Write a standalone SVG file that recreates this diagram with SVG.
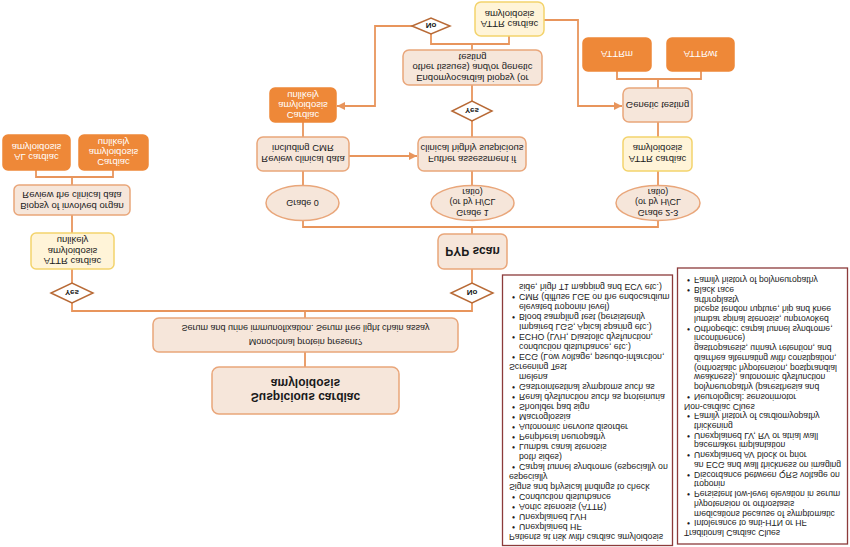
<svg xmlns="http://www.w3.org/2000/svg" width="850" height="547" viewBox="0 0 850 547">
<style>
.b{fill:#F6E6DA;stroke:#E9A67A;stroke-width:1.5}
.o{fill:#EE8838;stroke:#EE8838;stroke-width:1.5}
.y{fill:#FFF4D8;stroke:#F3D36C;stroke-width:1.5}
.d{fill:#fff;stroke:#B86A36;stroke-width:1.5}
.c{fill:none;stroke:#E8955C;stroke-width:1.8}
.pn{fill:#fff;stroke:#8C3B3B;stroke-width:1.3}
text{font-family:"Liberation Sans",Arial,sans-serif;fill:#1a1a1a}
.t{font-size:9.5px;text-anchor:middle}
.g{font-size:9px;text-anchor:middle}
.w{fill:#fff}
.bd{font-weight:bold}
.dt{font-size:8px;font-weight:bold;text-anchor:middle}
.p1{font-size:8.75px}
.p2{font-size:8.6px}
</style>
<defs>
<marker id="ah" markerUnits="userSpaceOnUse" markerWidth="8" markerHeight="8" refX="8" refY="4" orient="auto">
<path d="M0,0 L8,4 L0,8 z" fill="#E8955C"/>
</marker>
</defs>
<g transform="matrix(1 0 0 -1 0 547)">
<g id="connectors">
<path class="c" d="M305 180 V195"/>
<path class="c" d="M305 229 V236 M72 244 V236 H472 V244"/>
<path class="c" d="M72 264 V278"/>
<path class="c" d="M72 314 V332"/>
<path class="c" d="M72 362 V370 M36 377 V370 H113 V377"/>
<path class="c" d="M472 264 V278"/>
<path class="c" d="M472 313 V320 M303 326.5 V320 H658 V326.5"/>
<path class="c" d="M303 361.5 V376 M472 361.5 V376 M658 361.5 V376"/>
<path class="c" d="M349 391 H417" marker-end="url(#ah)"/>
<path class="c" d="M303 410 V425"/>
<path class="c" d="M472 410 V426"/>
<path class="c" d="M472 446 V462"/>
<path class="c" d="M472 497 V503 M431 513 V503 H509 V511"/>
<path class="c" d="M412 521 H375 V441 H337" marker-end="url(#ah)"/>
<path class="c" d="M544 527 H578 V441 H622" marker-end="url(#ah)"/>
<path class="c" d="M658 410 V425"/>
<path class="c" d="M658 459 V468 M617 476 V468 H701 V476"/>
</g>
<g id="suspicious">
<rect class="b" x="212" y="133" width="187" height="47" rx="7"/>
<text class="t bd" style="font-size:12px" x="305.5" y="154">Suspicious  cardiac</text>
<text class="t bd" style="font-size:12px" x="305.5" y="168">amyloidosis</text>
</g>
<g id="monoclonal">
<rect class="b" x="153" y="195" width="305" height="34" rx="6"/>
<text class="g" x="305.5" y="208.2">Monoclonal protein present?</text>
<text class="g" x="305.5" y="222.2">Serum and urine immunofixation. Serum free light chain assay</text>
</g>
<g id="yes-left">
<polygon class="d" points="51,254 72,244 93,254 72,264"/>
<text class="dt" x="72" y="256.8">Yes</text>
</g>
<g id="no-mid">
<polygon class="d" points="451,254 472,244 493,254 472,264"/>
<text class="dt" x="472" y="256.8">No</text>
</g>
<g id="attr-unlikely">
<rect class="y" x="31" y="278" width="83" height="36" rx="5"/>
<text class="t" x="72.5" y="288.8">ATTR cardiac</text>
<text class="t" x="72.5" y="299.3">amyloidosis</text>
<text class="t" x="72.5" y="309.8">unlikely</text>
</g>
<g id="biopsy-organ">
<rect class="b" x="14" y="332" width="116" height="30" rx="5"/>
<text class="t" x="72" y="344.3">Biopsy of involved organ</text>
<text class="t" x="72" y="355.3">Review the clinical data</text>
</g>
<g id="al-cardiac">
<rect class="o" x="3" y="377" width="67" height="35" rx="5"/>
<text class="t w" x="36.5" y="392.8">AL cardiac</text>
<text class="t w" x="36.5" y="402.8">amyloidosis</text>
</g>
<g id="cardiac-unlikely-left">
<rect class="o" x="79" y="377" width="69" height="35" rx="5"/>
<text class="t w" x="113.5" y="387.8">Cardiac</text>
<text class="t w" x="113.5" y="397.8">amyloidosis</text>
<text class="t w" x="113.5" y="407.8">unlikely</text>
</g>
<g id="pyp">
<rect class="b" x="438" y="278" width="69" height="35" rx="6"/>
<text class="t bd" style="font-size:12px" x="472.5" y="299.7">PYP scan</text>
</g>
<g id="grade0">
<ellipse class="b" cx="302.5" cy="344" rx="36.5" ry="17.5"/>
<text class="g" x="302.5" y="347.2">Grade 0</text>
</g>
<g id="grade1">
<ellipse class="b" cx="472.5" cy="344" rx="41.5" ry="17.5"/>
<text class="g" x="472.5" y="337.2">Grade 1</text>
<text class="g" x="472.5" y="347.7">(or by H/CL</text>
<text class="g" x="472.5" y="358.2">ratio)</text>
</g>
<g id="grade23">
<ellipse class="b" cx="658" cy="344" rx="42" ry="17.5"/>
<text class="g" x="658" y="337.2">Grade 2-3</text>
<text class="g" x="658" y="347.7">(or by H/CL</text>
<text class="g" x="658" y="358.2">ratio)</text>
</g>
<g id="review-cmr">
<rect class="b" x="257" y="376" width="92" height="34" rx="6"/>
<text class="t" x="303" y="390.8">Review clinical data</text>
<text class="t" x="303" y="401.8">including CMR</text>
</g>
<g id="further">
<rect class="b" x="418" y="376" width="108" height="34" rx="6"/>
<text class="t" x="472" y="390.8">Futher assessment if</text>
<text class="t" x="472" y="401.8">clinical highly suspicious</text>
</g>
<g id="attr-right">
<rect class="y" x="623" y="376" width="69" height="34" rx="5"/>
<text class="t" x="657.5" y="391.3">ATTR cardiac</text>
<text class="t" x="657.5" y="401.8">amyloidosis</text>
</g>
<g id="cardiac-unlikely-mid">
<rect class="o" x="270" y="425" width="66" height="34" rx="5"/>
<text class="t w" x="303" y="435.3">Cardiac</text>
<text class="t w" x="303" y="445.3">amyloidosis</text>
<text class="t w" x="303" y="455.3">unlikely</text>
</g>
<g id="yes-mid">
<polygon class="d" points="452,436 472,426 492,436 472,446"/>
<text class="dt" x="472" y="438.8">Yes</text>
</g>
<g id="genetic">
<rect class="b" x="623" y="425" width="69" height="34" rx="6"/>
<text class="t" x="657.5" y="445.3">Genetic testing</text>
</g>
<g id="endo">
<rect class="b" x="403" y="462" width="139" height="35" rx="6"/>
<text class="t" x="472.5" y="471.8">Endomyocardial biopsy (or</text>
<text class="t" x="472.5" y="482.8">other tissues) and/or genetic</text>
<text class="t" x="472.5" y="493.3">testing</text>
</g>
<g id="attrm">
<rect class="o" x="583" y="476" width="68" height="33" rx="5"/>
<text class="t w" x="617" y="495.8">ATTRm</text>
</g>
<g id="attrwt">
<rect class="o" x="667" y="476" width="67" height="33" rx="5"/>
<text class="t w" x="700.5" y="495.8">ATTRwt</text>
</g>
<g id="no-top">
<polygon class="d" points="412,521 431,513 450,521 431,529"/>
<text class="dt" x="431" y="523.8">No</text>
</g>
<g id="attr-top">
<rect class="y" x="475" y="511" width="69" height="34" rx="6"/>
<text class="t" x="509.5" y="526.3">ATTR cardiac</text>
<text class="t" x="509.5" y="536.3">amyloidosis</text>
</g>
<g id="panel-risk">
<rect class="pn" x="502.5" y="1.5" width="170" height="270.5"/>
<g class="p1">
<text x="509" y="13">Patients at risk with cardiac amyloidosis</text>
<text y="23"><tspan x="512">•</tspan><tspan x="519">Unexplained HF</tspan></text>
<text y="33"><tspan x="512">•</tspan><tspan x="519">Unexplained LVH</tspan></text>
<text y="43"><tspan x="512">•</tspan><tspan x="519">Aortic stenosis (ATTR)</tspan></text>
<text y="53"><tspan x="512">•</tspan><tspan x="519">Conduction disturbance</tspan></text>
<text x="509" y="63">Signs and physical findings to check</text>
<text x="509" y="73">especially</text>
<text y="83"><tspan x="512">•</tspan><tspan x="519">Carpal tunnel syndrome (especially on</tspan></text>
<text x="519" y="93">both sides)</text>
<text y="103"><tspan x="512">•</tspan><tspan x="519">Lumbar canal stenosis</tspan></text>
<text y="113"><tspan x="512">•</tspan><tspan x="519">Peripheral neuropathy</tspan></text>
<text y="123"><tspan x="512">•</tspan><tspan x="519">Autonomic nervous disorder</tspan></text>
<text y="133"><tspan x="512">•</tspan><tspan x="519">Macroglossia</tspan></text>
<text y="143"><tspan x="512">•</tspan><tspan x="519">Shoulder pad sign</tspan></text>
<text y="153"><tspan x="512">•</tspan><tspan x="519">Renal dysfunction such as proteinuria</tspan></text>
<text y="163"><tspan x="512">•</tspan><tspan x="519">Gastrointestinal symptoms such as</tspan></text>
<text x="519" y="173">melena</text>
<text x="509" y="183">Screening Test</text>
<text y="193"><tspan x="512">•</tspan><tspan x="519">ECG (Low voltage, pseudo-infarction,</tspan></text>
<text x="519" y="203">conduction disturbance, etc.)</text>
<text y="213"><tspan x="512">•</tspan><tspan x="519">ECHO (LVH, Diastolic dysfunction,</tspan></text>
<text x="519" y="223">Impaired LGS, Apical sparing etc.)</text>
<text y="233"><tspan x="512">•</tspan><tspan x="519">Blood sampling test (persistently</tspan></text>
<text x="519" y="243">elevated troponin level)</text>
<text y="253"><tspan x="512">•</tspan><tspan x="519">CMR (diffuse LGE on the endocardium</tspan></text>
<text x="519" y="263">side, high T1 mapping and ECV etc.)</text>
</g>
</g>
<g id="panel-clues">
<rect class="pn" x="677.5" y="3" width="170" height="276"/>
<g class="p2">
<text x="684" y="17">Traditional Cardiac Clues</text>
<text y="26.7"><tspan x="687">•</tspan><tspan x="694">Intolerance to anti-HTN or HF</tspan></text>
<text x="694" y="36.5">medications because of symptomatic</text>
<text x="694" y="46.2">hypotension or orthostasis</text>
<text y="55.9"><tspan x="687">•</tspan><tspan x="694">Persistent low-level elevation in serum</tspan></text>
<text x="694" y="65.7">troponin</text>
<text y="75.4"><tspan x="687">•</tspan><tspan x="694">Discordance between QRS voltage on</tspan></text>
<text x="694" y="85.1">an ECG and wall thickness on imaging</text>
<text y="94.8"><tspan x="687">•</tspan><tspan x="694">Unexplained AV block or prior</tspan></text>
<text x="694" y="104.6">pacemaker implantation</text>
<text y="114.3"><tspan x="687">•</tspan><tspan x="694">Unexplained LV, RV or atrial wall</tspan></text>
<text x="694" y="124">thickening</text>
<text y="133.8"><tspan x="687">•</tspan><tspan x="694">Family history of cardiomyopathy</tspan></text>
<text x="684" y="143.5">Non-cardiac Clues</text>
<text y="153.2"><tspan x="687">•</tspan><tspan x="694">Neurological: sensorimotor</tspan></text>
<text x="694" y="162.9">polyneuropathy (paresthesia and</text>
<text x="694" y="172.7">weakness), autonomic dysfunction</text>
<text x="694" y="182.4">(orthostatic hypotension, postprandial</text>
<text x="694" y="192.1">diarrhea alternating with constipation,</text>
<text x="694" y="201.9">gastroparesis, urinary retention, and</text>
<text x="694" y="211.6">incontinence)</text>
<text y="221.3"><tspan x="687">•</tspan><tspan x="694">Orthopedic: carpal tunnel syndrome,</tspan></text>
<text x="694" y="231">lumbar spinal stenosis, unprovoked</text>
<text x="694" y="240.8">biceps tendon rupture, hip and knee</text>
<text x="694" y="250.5">arthroplasty</text>
<text y="260.2"><tspan x="687">•</tspan><tspan x="694">Black race</tspan></text>
<text y="270"><tspan x="687">•</tspan><tspan x="694">Family history of polyneuropathy</tspan></text>
</g>
</g>
</g>
</svg>
